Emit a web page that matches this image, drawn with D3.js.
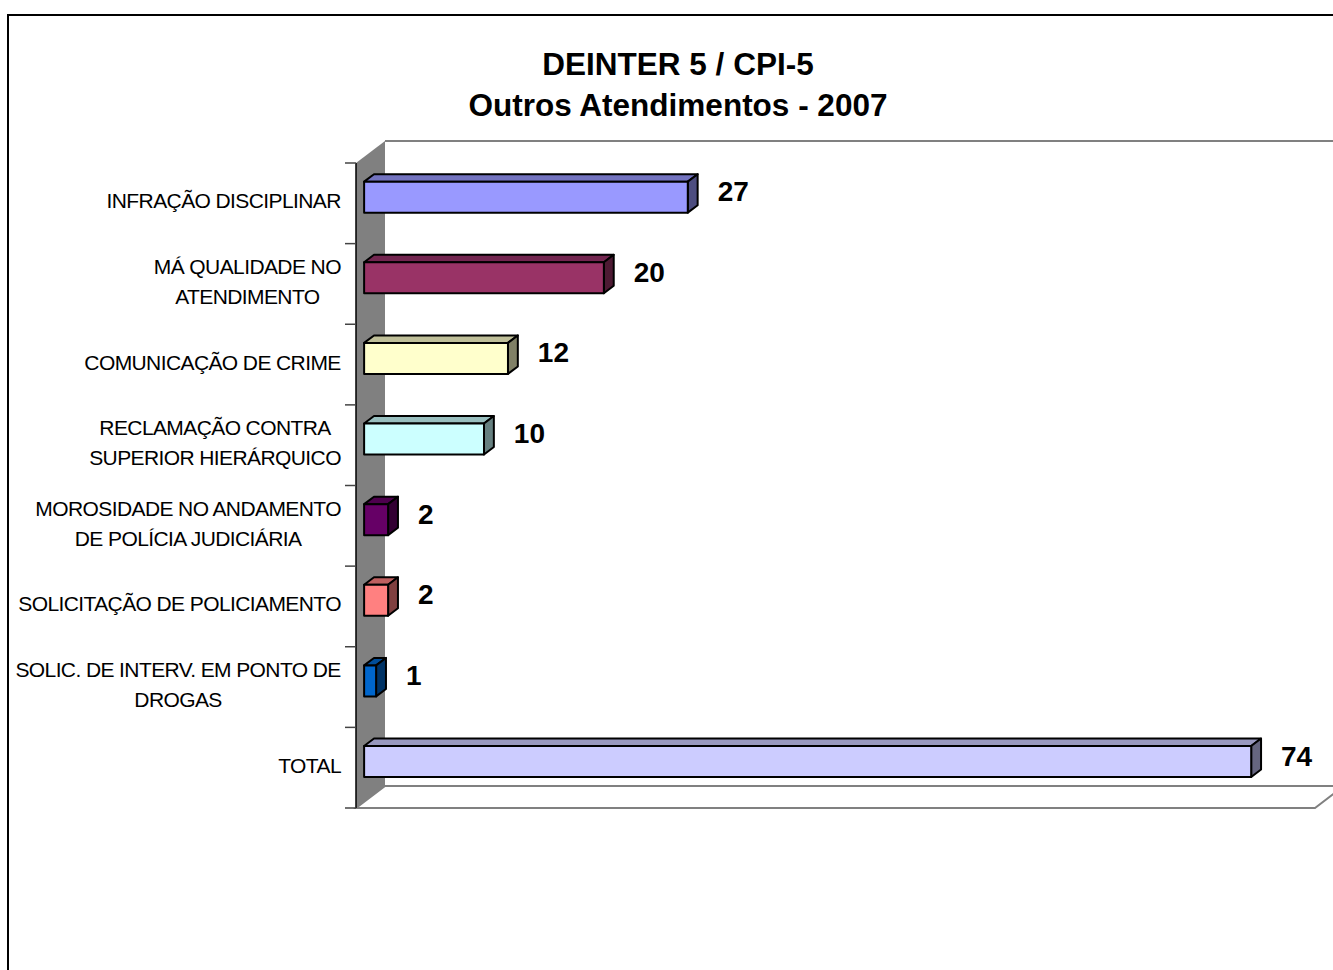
<!DOCTYPE html>
<html>
<head>
<meta charset="utf-8">
<script src="https://cdn.jsdelivr.net/npm/d3@7"></script>
<style>
  body { margin: 0; background: #fff; }
  text { font-family: "Liberation Sans", Arial, sans-serif; }
</style>
</head>
<body>
<div id="chart"></div>
<script>
const categories = [
  "INFRAÇÃO DISCIPLINAR",
  "MÁ QUALIDADE NO\nATENDIMENTO",
  "COMUNICAÇÃO DE CRIME",
  "RECLAMAÇÃO CONTRA\nSUPERIOR HIERÁRQUICO",
  "MOROSIDADE NO ANDAMENTO\nDE POLÍCIA JUDICIÁRIA",
  "SOLICITAÇÃO DE POLICIAMENTO",
  "SOLIC. DE INTERV. EM PONTO DE\nDROGAS",
  "TOTAL"
];
const values = [27, 20, 12, 10, 2, 2, 1, 74];
const titleLines = ["DEINTER 5 / CPI-5", "Outros Atendimentos - 2007"];

const frontColors = ["#9999ff", "#993366", "#ffffcc", "#ccffff", "#660066", "#ff8080", "#0066cc", "#ccccff"];
const topColors = ["#7373bf", "#732650", "#bfbf99", "#99bfbf", "#4d004d", "#bf6060", "#004d99", "#9999bf"];
const sideColors = ["#4d4d80", "#4d1a33", "#808066", "#668080", "#330033", "#804040", "#003366", "#666680"];

const W = 1333, H = 970;
// 3d depth of the plot box
const DX = 29, DY = 22;
const d0 = 0.28, d1 = 0.62;
const barH = 31;

const svg = d3.select("#chart").append("svg")
  .attr("width", W)
  .attr("height", H);

// chart border
svg.append("rect")
  .attr("x", 8).attr("y", 15)
  .attr("width", 1400).attr("height", 1000)
  .attr("fill", "#fff")
  .attr("stroke", "#000")
  .attr("stroke-width", 2);

const x = d3.scaleLinear().domain([0, 80]).range([356, 1315]);
const y = d3.scaleBand().domain(categories).range([163, 808]);

const plotTop = y.range()[0], plotBottom = y.range()[1];
const plotLeft = x(0), plotRight = x(80);

// side wall
svg.append("polygon")
  .attr("points", [[plotLeft, plotTop], [plotLeft + DX, plotTop - DY], [plotLeft + DX, plotBottom - DY], [plotLeft, plotBottom]].join(" "))
  .attr("fill", "#808080");

// back wall outline
svg.append("path")
  .attr("d", "M" + (plotLeft + DX) + "," + (plotTop - DY) + "H" + (plotRight + DX) + "V" + (plotBottom - DY))
  .attr("fill", "none")
  .attr("stroke", "#808080")
  .attr("stroke-width", 2);

// floor
svg.append("polygon")
  .attr("points", [[plotLeft, plotBottom], [plotLeft + DX, plotBottom - DY], [plotRight + DX, plotBottom - DY], [plotRight, plotBottom]].join(" "))
  .attr("fill", "#fff")
  .attr("stroke", "#808080")
  .attr("stroke-width", 2);

// category axis
svg.append("line")
  .attr("x1", plotLeft).attr("x2", plotLeft)
  .attr("y1", plotTop).attr("y2", plotBottom)
  .attr("stroke", "#000")
  .attr("stroke-width", 1.5);

const ticks = categories.map(c => y(c)).concat([plotBottom]);
svg.selectAll(".tick")
  .data(ticks)
  .enter()
  .append("line")
  .attr("x1", plotLeft - 11).attr("x2", plotLeft)
  .attr("y1", d => d).attr("y2", d => d)
  .attr("stroke", "#444")
  .attr("stroke-width", 1.5);

// category labels: centered block, right aligned
const labelRight = 341;
categories.forEach(function(c) {
  const lines = c.split("\n");
  const cy = y(c) + y.bandwidth() / 2;
  const txt = svg.append("text")
    .attr("font-size", 21)
    .attr("letter-spacing", "-0.6px")
    .attr("fill", "#000")
    .attr("text-anchor", "middle");
  lines.forEach(function(l, i) {
    txt.append("tspan")
      .attr("x", 0)
      .attr("y", cy + (i - (lines.length - 1) / 2) * 30 + 5)
      .text(l);
  });
  const bw = txt.node().getBBox().width;
  txt.attr("transform", "translate(" + (labelRight - bw / 2) + ",0)");
});

// bars
const ox = DX * d0, oy = DY * d0;
const ddx = DX * (d1 - d0), ddy = DY * (d1 - d0);

const bars = svg.selectAll(".bar")
  .data(values)
  .enter()
  .append("g")
  .attr("class", "bar")
  .attr("stroke", "#000")
  .attr("stroke-width", 2)
  .attr("stroke-linejoin", "round");

function geo(d, i) {
  const cy = y(categories[i]) + y.bandwidth() / 2 - oy;
  return { x0: x(0) + ox, x1: x(d) + ox, y0: cy - barH / 2, y1: cy + barH / 2 };
}

bars.append("polygon")
  .attr("fill", (d, i) => topColors[i])
  .attr("points", function(d, i) {
    const g = geo(d, i);
    return [[g.x0, g.y0], [g.x0 + ddx, g.y0 - ddy], [g.x1 + ddx, g.y0 - ddy], [g.x1, g.y0]].join(" ");
  });

bars.append("polygon")
  .attr("fill", (d, i) => sideColors[i])
  .attr("points", function(d, i) {
    const g = geo(d, i);
    return [[g.x1, g.y0], [g.x1 + ddx, g.y0 - ddy], [g.x1 + ddx, g.y1 - ddy], [g.x1, g.y1]].join(" ");
  });

bars.append("rect")
  .attr("fill", (d, i) => frontColors[i])
  .attr("x", (d, i) => geo(d, i).x0)
  .attr("y", (d, i) => geo(d, i).y0)
  .attr("width", (d, i) => geo(d, i).x1 - geo(d, i).x0)
  .attr("height", barH);

// value labels
svg.selectAll(".value")
  .data(values)
  .enter()
  .append("text")
  .attr("class", "value")
  .attr("x", (d, i) => geo(d, i).x1 + ddx + 20)
  .attr("y", (d, i) => (geo(d, i).y0 + geo(d, i).y1) / 2 - 6)
  .attr("dy", "0.36em")
  .attr("font-size", 28)
  .attr("font-weight", "bold")
  .text(d => d);

// title
svg.append("text")
  .attr("text-anchor", "middle")
  .attr("font-size", 31.5)
  .attr("font-weight", "bold")
  .selectAll("tspan")
  .data(titleLines)
  .enter()
  .append("tspan")
  .attr("x", 678)
  .attr("y", (d, i) => 75 + i * 41)
  .text(d => d);
</script>
</body>
</html>
